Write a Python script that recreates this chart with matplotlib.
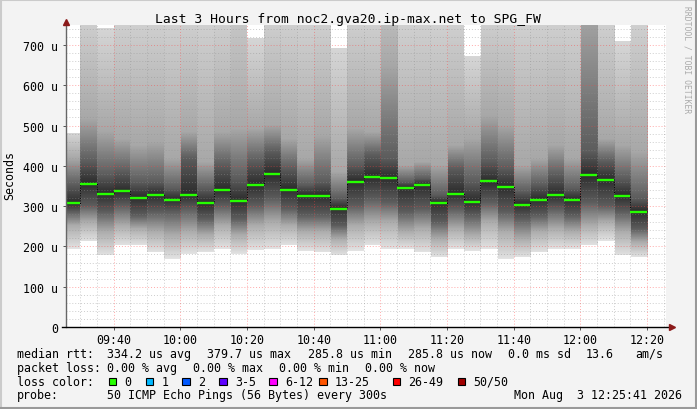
import numpy as np
import pandas as pd
import matplotlib
matplotlib.use("Agg")
import matplotlib.pyplot as plt
import matplotlib.dates as mdates
from matplotlib.patches import Rectangle
from matplotlib.lines import Line2D

# smokeping 5-minute slots (start times), 09:25 .. 12:15
slots = pd.date_range("2026-08-03 09:25", "2026-08-03 12:15", freq="5min")
t_end = pd.Timestamp("2026-08-03 12:25:41")

# median rtt per slot, in microseconds
median = [307, 356, 331, 337, 321, 328, 316, 328, 307, 341, 313, 353, 379.7, 341, 326, 326, 294, 361,
          373, 370, 345, 353, 308, 331, 311, 362, 347, 304, 316, 328, 316, 378, 365, 326, 285.8]

# smoke: spread of the 50 pings per slot (lowest, ~p10, ~p30, ~p70, ~p90, highest)
ping_lo = [194, 212, 177, 202, 202, 185, 169, 181, 185, 194, 181, 191, 194, 202, 189, 185, 177, 189,
           202, 194, 194, 185, 173, 194, 189, 194, 169, 173, 185, 194, 194, 202, 214, 177, 173]
ping_q1 = [251, 260, 236, 251, 243, 236, 227, 236, 227, 251, 227, 251, 260, 251, 236, 236, 218, 251,
           260, 260, 236, 243, 218, 243, 227, 260, 236, 218, 236, 243, 236, 251, 260, 236, 210]
ping_q2 = [285, 301, 285, 301, 276, 285, 285, 293, 268, 301, 268, 301, 318, 293, 276, 276, 251, 301,
           318, 309, 285, 293, 260, 293, 276, 309, 285, 268, 276, 293, 276, 309, 301, 285, 243]
ping_q3 = [351, 409, 376, 384, 359, 359, 342, 417, 342, 400, 367, 409, 434, 392, 351, 359, 318, 400,
           425, 417, 359, 367, 326, 392, 359, 409, 392, 334, 351, 376, 342, 434, 409, 367, 318]
ping_q4 = [417, 516, 484, 466, 450, 458, 417, 483, 409, 483, 491, 491, 500, 466, 417, 475, 384, 491,
           483, 650, 400, 409, 400, 450, 466, 524, 500, 400, 417, 450, 417, 780, 466, 450, 434]
ping_hi = [480, 800, 740, 800, 800, 800, 800, 800, 800, 800, 900, 715, 800, 800, 800, 800, 690, 800,
           800, 900, 800, 800, 800, 800, 669, 800, 800, 800, 800, 800, 800, 900, 800, 706, 800]

loss_labels = ["0", "1", "2", "3-5", "6-12", "13-25", "26-49", "50/50"]
loss_colors = ["#26ff00", "#00b8ff", "#0059ff", "#5e00ff", "#ff00ff", "#ff5500", "#ff0000", "#a10000"]

W, H = 697, 410
MONO = "DejaVu Sans Mono"
FS = 8.4


def fx(x):
    return x / W


def fy(y):
    return 1 - y / H


fig = plt.figure(figsize=(W / 100, H / 100), dpi=100, facecolor="#f3f3f3")
ax = fig.add_axes([fx(66), fy(328), 600 / W, 302.2 / H])
ax.set_facecolor("white")

x_start = mdates.date2num(t_end - pd.Timedelta(hours=3))
x_stop = mdates.date2num(t_end)

# smoke image, one column per slot
vals = np.arange(0, 900, 1.0)
img = np.zeros((len(vals), len(slots), 4))
greys = [226, 172, 92, 44, 92, 168, 214]
for k in range(len(slots)):
    knots = [ping_lo[k], ping_q1[k], ping_q2[k], median[k], ping_q3[k], ping_q4[k], ping_hi[k]]
    g = np.interp(vals, knots, greys) / 255.0
    inside = (vals >= ping_lo[k]) & (vals <= ping_hi[k])
    img[:, k, 0] = g
    img[:, k, 1] = g
    img[:, k, 2] = g
    img[:, k, 3] = inside.astype(float)

edges = mdates.date2num(list(slots) + [slots[-1] + pd.Timedelta(minutes=5)])
ax.imshow(img, extent=[edges[0], edges[-1], 0, 900], origin="lower", aspect="auto",
          interpolation="nearest", zorder=1)
ax.set_xlim(x_start, x_stop)
ax.set_ylim(0, 750)

# grid drawn over the smoke like rrdtool does
for yv in range(20, 760, 20):
    if yv % 100 == 0:
        ax.axhline(yv, color="#ff4040", alpha=0.45, lw=0.7, ls=(0, (1, 2)), zorder=2)
    else:
        ax.axhline(yv, color="#909090", alpha=0.45, lw=0.7, ls=(0, (1, 2)), zorder=2)
for t in pd.date_range("2026-08-03 09:30", "2026-08-03 12:25", freq="5min"):
    xv = mdates.date2num(t)
    if t.minute % 20 == 0:
        ax.axvline(xv, color="#ff4040", alpha=0.45, lw=0.7, ls=(0, (1, 2)), zorder=2)
    else:
        ax.axvline(xv, color="#909090", alpha=0.45, lw=0.7, ls=(0, (1, 2)), zorder=2)

# median line
ax.step(edges, median + [median[-1]], where="post", color="black", lw=0.7, ls=":", zorder=3)
ax.hlines(median, edges[:-1], edges[1:], color=loss_colors[0], lw=1.7, zorder=4)

# axes
for s in ax.spines.values():
    s.set_visible(False)
ax.set_yticks(range(0, 701, 100))
ax.set_yticklabels(["0"] + ["%d u" % v for v in range(100, 701, 100)])
ax.xaxis.set_major_locator(mdates.MinuteLocator(byminute=[0, 20, 40]))
ax.xaxis.set_major_formatter(mdates.DateFormatter("%H:%M"))
ax.tick_params(axis="both", length=2.5, width=0.7, color="#555555", labelsize=FS)
ax.tick_params(axis="x", pad=1.5)
ax.tick_params(axis="y", pad=3.0)
for lab in ax.get_xticklabels() + ax.get_yticklabels():
    lab.set_fontfamily(MONO)
    lab.set_fontsize(FS)

fig.add_artist(Line2D([fx(66), fx(66)], [fy(328), fy(24)], color="#666666", lw=1.0))
fig.add_artist(Line2D([fx(62), fx(670)], [fy(328), fy(328)], color="black", lw=1.0))
fig.add_artist(Line2D([fx(66)], [fy(23)], marker="^", ms=4.5, color="#8b1a1a", lw=0))
fig.add_artist(Line2D([fx(672)], [fy(328)], marker=">", ms=4.5, color="#8b1a1a", lw=0))

# titles
fig.text(fx(348), fy(19.5), "Last 3 Hours from noc2.gva20.ip-max.net to SPG_FW",
         family=MONO, size=9.4, ha="center", va="center")
fig.text(fx(10), fy(176), "Seconds", family=MONO, size=FS, rotation=90,
         ha="center", va="center")
fig.text(fx(687), fy(60), "RRDTOOL / TOBI OETIKER", family=MONO, size=5.8,
         rotation=-90, ha="center", va="center", color="#aaaaaa")


# legend block
def txt(x, y, s):
    fig.text(fx(x), fy(y), s, family=MONO, size=FS, ha="left", va="center")


txt(16.7, 354.3, "median rtt:")
txt(107.3, 354.3, "334.2 us avg")
txt(207.3, 354.3, "379.7 us max")
txt(308.3, 354.3, "285.8 us min")
txt(407.7, 354.3, "285.8 us now")
txt(507.7, 354.3, "0.0 ms sd")
txt(585.7, 354.3, "13.6")
txt(635.3, 354.3, "am/s")

txt(16.7, 368.3, "packet loss:")
txt(107.3, 368.3, "0.00 % avg")
txt(193.3, 368.3, "0.00 % max")
txt(279.3, 368.3, "0.00 % min")
txt(365.3, 368.3, "0.00 % now")

txt(16.7, 382.3, "loss color:")
box_x = [108.7, 145.7, 182.3, 219.3, 269.3, 319.3, 392.7, 458.0]
for bx, lab, col in zip(box_x, loss_labels, loss_colors):
    fig.add_artist(Rectangle((fx(bx), fy(386)), 7.3 / W, 7.3 / H, transform=fig.transFigure,
                             facecolor=col, edgecolor="black", lw=0.8))
    txt(bx + 15.5, 382.3, lab)

txt(16.7, 396.0, "probe:")
txt(107.3, 396.0, "50 ICMP Echo Pings (56 Bytes) every 300s")
txt(513.7, 396.0, "Mon Aug  3 12:25:41 2026")

# rrdtool style frame
fig.add_artist(Line2D([0, 1], [fy(0.5), fy(0.5)], color="#cbcbcb", lw=1.5))
fig.add_artist(Line2D([fx(0.5), fx(0.5)], [0, 1], color="#cbcbcb", lw=1.5))
fig.add_artist(Line2D([0, 1], [fy(409), fy(409)], color="#999999", lw=1.5))
fig.add_artist(Line2D([fx(696), fx(696)], [0, 1], color="#999999", lw=1.5))

fig.savefig("out.png", dpi=100, facecolor=fig.get_facecolor())
